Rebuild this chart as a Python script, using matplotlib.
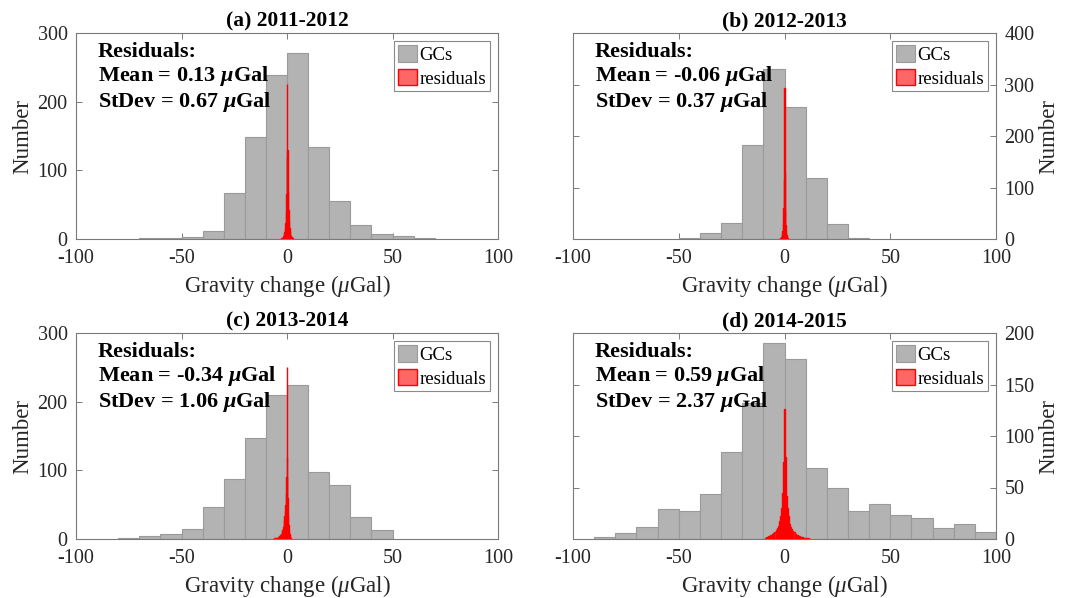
import numpy as np
import matplotlib
matplotlib.use("Agg")
import matplotlib.pyplot as plt

plt.rcParams['font.family'] = ['Liberation Serif', 'DejaVu Serif']
plt.rcParams['mathtext.fontset'] = 'custom'
plt.rcParams['mathtext.rm'] = 'Liberation Serif'
plt.rcParams['mathtext.it'] = 'Liberation Serif:italic'
plt.rcParams['mathtext.bf'] = 'Liberation Serif:bold'
plt.rcParams['mathtext.bfit'] = 'Liberation Serif:bold:italic'

# ---------------- data ----------------
titles = ["(a) 2011-2012", "(b) 2012-2013", "(c) 2013-2014", "(d) 2014-2015"]
res_mean = ["0.13", "-0.06", "-0.34", "0.59"]
res_std = ["0.67", "0.37", "1.06", "2.37"]

gc_bin_width = 10
gc_start_a = -70
gc_counts_a = [1, 2, 3, 12, 67, 149, 239, 271, 134, 55, 20, 8, 4, 1]
gc_start_b = -50
gc_counts_b = [1, 12, 31, 183, 331, 257, 119, 29, 1]
gc_start_c = -80
gc_counts_c = [1, 5, 8, 15, 47, 88, 147, 209, 225, 98, 79, 32, 13]
gc_start_d = -90
gc_counts_d = [2, 6, 12, 29, 27, 44, 84, 132, 190, 175, 69, 50, 27, 34, 23, 20, 11, 15, 7]

res_start_a, res_width_a = -2.8, 0.2
res_counts_a = [1, 1, 2, 2, 3, 4, 5, 7, 10, 15, 24, 40, 65, 120, 226, 130, 70, 42, 26, 16,
                11, 8, 5, 4, 3, 2, 2, 1, 1]
res_start_b, res_width_b = -2.2, 0.2
res_counts_b = [1, 1, 2, 3, 5, 9, 16, 30, 60, 115, 293, 130, 58, 27, 13, 7, 4, 2, 1]
res_start_c, res_width_c = -6.0, 0.2
res_counts_c = [1, 0, 1, 1, 1, 2, 1, 2, 2, 3, 3, 4, 4, 5, 6,
                7, 8, 9, 11, 13, 15, 18, 22, 27, 33,
                40, 50, 65, 90, 251,
                120, 60, 35, 20, 12, 7, 4, 2, 1, 1]
res_start_d, res_width_d = -9.25, 0.5
res_counts_d = [1, 2, 1, 3, 2, 4, 3, 5, 6, 7, 9, 11, 13, 17, 22, 30, 45, 75, 126,
                80, 42, 30, 22, 15, 12, 10, 8, 7, 5, 4,
                4, 3, 3, 2, 2, 2, 1, 1, 1, 1, 0, 1]

y_max = [300, 400, 300, 200]
y_step = [100, 100, 100, 50]
x_ticks = [-100, -50, 0, 50, 100]

gc_data = [(gc_start_a, gc_counts_a), (gc_start_b, gc_counts_b),
           (gc_start_c, gc_counts_c), (gc_start_d, gc_counts_d)]
res_data = [(res_start_a, res_width_a, res_counts_a), (res_start_b, res_width_b, res_counts_b),
            (res_start_c, res_width_c, res_counts_c), (res_start_d, res_width_d, res_counts_d)]

# ---------------- layout ----------------
W, H = 1073, 598
fig = plt.figure(figsize=(W / 100, H / 100), dpi=100)
boxes = [(76, 33, 498, 239), (573, 33, 996, 239), (76, 333, 498, 539), (573, 333, 996, 539)]

spine_col = '#7a7a7a'
txt_col = '#262626'
for i in range(4):
    x0, y0, x1, y1 = boxes[i]
    ax = fig.add_axes([x0 / W, 1 - y1 / H, (x1 - x0) / W, (y1 - y0) / H])
    gs, gc = gc_data[i]
    gedges = gs + gc_bin_width * np.arange(len(gc))
    ax.bar(gedges, gc, width=gc_bin_width, align='edge', facecolor='#b3b3b3',
           edgecolor='#9a9a9a', linewidth=0.8, label='GCs', zorder=2)
    rs, rw, rc = res_data[i]
    redges = rs + rw * np.arange(len(rc))
    ax.bar(redges, rc, width=rw, align='edge', facecolor=(1, 0, 0, 0.6),
           edgecolor='red', linewidth=1.0, label='residuals', zorder=3)

    ax.set_xlim(-100, 100)
    ax.set_ylim(0, y_max[i])
    ax.set_xticks(x_ticks)
    ax.set_xticklabels([str(t) for t in x_ticks])
    ax.set_yticks(np.arange(0, y_max[i] + 1, y_step[i]))
    right = (i % 2 == 1)
    ax.tick_params(direction='in', length=4, width=0.7, color=spine_col,
                   top=True, right=True, bottom=True, left=True,
                   labelsize=14.5, labelcolor=txt_col)
    ax.tick_params(axis='x', pad=7)
    ax.tick_params(axis='y', pad=6)
    if right:
        ax.yaxis.tick_right()
        ax.tick_params(axis='y', left=True, right=True, direction='in')
        ax.yaxis.set_label_position('right')
    for s in ax.spines.values():
        s.set_color(spine_col)
        s.set_linewidth(0.8)
    ax.set_ylabel('Number', fontsize=16.5, color=txt_col, labelpad=3)
    ax.set_xlabel(r'Gravity change ($\mu$Gal)', fontsize=16.5, color=txt_col, labelpad=4)
    ax.set_title(titles[i], fontsize=15.5, fontweight='bold', pad=5)

    txt = ('Residuals:\n'
           'Mean = ' + res_mean[i] + r' $\mathbfit{\mu}$Gal' + '\n'
           'StDev = ' + res_std[i] + r' $\mathbfit{\mu}$Gal')
    ax.text(0.052, 0.955, txt, transform=ax.transAxes, ha='left', va='top',
            fontsize=16, fontweight='bold', linespacing=1.1, zorder=5)

    leg = ax.legend(loc='upper right', fontsize=13.5, frameon=True, fancybox=False,
                    framealpha=1, edgecolor='#8a8a8a', borderpad=0.2, labelspacing=0.25,
                    handlelength=1.05, handleheight=1.0, handletextpad=0.1,
                    borderaxespad=0.45)
    leg.get_frame().set_linewidth(0.8)
    leg.set_zorder(6)

fig.savefig('out.png', dpi=100)
